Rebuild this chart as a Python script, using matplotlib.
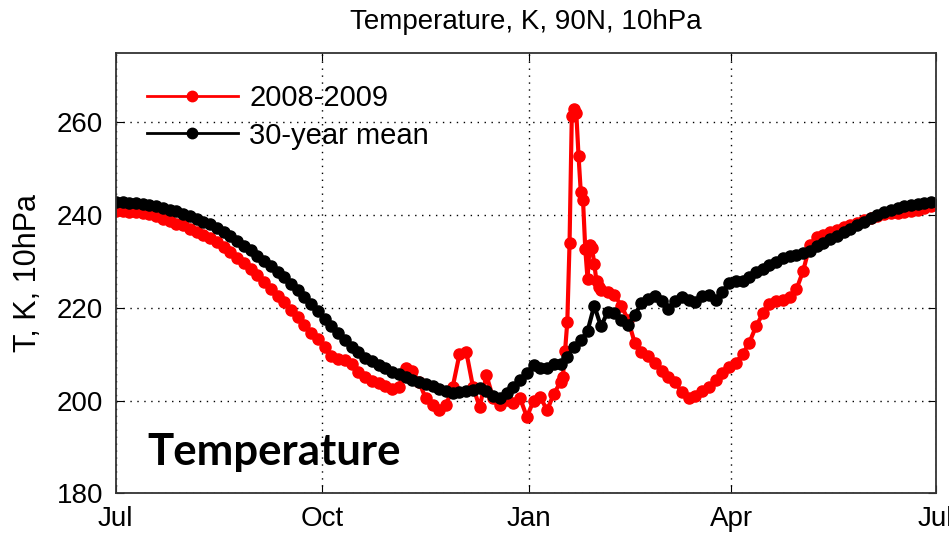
import numpy as np
import matplotlib
matplotlib.use('Agg')
from matplotlib import pyplot as plt

# days since 1 July
days = np.arange(0, 366, 3)

# 30-year mean, every 3 days
mean_30 = [242.8, 242.8, 242.7, 242.6, 242.5, 242.3, 242.0, 241.6, 241.2, 240.8,
           240.3, 239.8, 239.2, 238.6, 238.0, 237.3, 236.4, 235.5, 234.5, 233.4,
           232.4, 231.3, 230.2, 229.0, 227.8, 226.6, 225.2, 223.8, 222.3, 220.8,
           219.4, 217.7, 216.0, 214.5, 213.0, 211.6, 210.4, 209.3, 208.5, 207.6,
           207.0, 206.2, 205.8, 205.1, 204.5, 204.0, 203.6, 203.2, 202.6, 202.0,
           201.6, 201.8, 202.0, 202.4, 202.8, 202.0, 201.0, 200.6, 201.6, 203.0,
           204.5, 206.0, 207.6, 207.0, 207.0, 207.8, 207.8, 209.5, 211.6, 213.0,
           215.0, 220.5, 216.0, 219.2, 219.0, 217.5, 216.3, 218.5, 221.0, 222.0,
           222.6, 221.5, 219.8, 221.5, 222.4, 221.8, 221.2, 222.5, 222.8, 221.8,
           223.5, 225.3, 225.7, 225.8, 226.6, 227.8, 228.5, 229.3, 230.0, 230.7,
           231.2, 231.5, 231.8, 232.3, 233.3, 234.1, 234.8, 235.5, 236.3, 237.0,
           237.8, 238.6, 239.3, 240.0, 240.6, 241.1, 241.5, 241.9, 242.2, 242.5,
           242.7, 242.8]

# 2008-2009 season (daily around the warming in late January)
red_days = [0, 3, 6, 9, 12, 15, 18, 21, 24, 27, 30, 33, 36, 39, 42, 45, 48, 51, 54, 57,
            60, 63, 66, 69, 72, 75, 78, 81, 84, 87, 90, 93, 96, 99, 102, 105, 108, 111,
            114, 117, 120, 123, 126, 129, 132, 135, 138, 141, 144, 147, 150, 153, 156,
            159, 162, 165, 168, 171, 174, 177, 180, 183, 186, 189, 192, 195,
            198, 199, 200, 201, 202, 203, 204, 205, 206, 207, 208, 209, 210, 211, 212,
            213, 214, 215, 216, 219, 222, 225, 228, 231, 234, 237, 240, 243, 246, 249,
            252, 255, 258, 261, 264, 267, 270, 273, 276, 279, 282, 285, 288, 291, 294,
            297, 300, 303, 306, 309, 312, 315, 318, 321, 324, 327, 330, 333, 336, 339,
            342, 345, 348, 351, 354, 357, 360, 363]
t_0809 = [241.0, 240.8, 240.6, 240.6, 240.4, 240.2, 239.8, 239.2, 238.8, 238.2,
          237.8, 237.0, 236.4, 235.8, 235.0, 234.2, 233.2, 232.0, 230.8, 229.6,
          228.4, 227.0, 225.6, 224.0, 222.6, 221.2, 219.6, 218.0, 216.4, 214.6,
          213.2, 211.5, 209.6, 209.0, 208.8, 207.8, 206.2, 205.0, 204.2, 203.8,
          203.2, 202.6, 203.0, 207.0, 206.4, 204.0, 200.5, 199.0, 198.0, 199.0,
          203.0, 210.0, 210.6, 203.0, 198.6, 205.5, 200.5, 199.0, 200.2, 199.5,
          200.5, 196.5, 200.0, 200.8, 197.9, 201.5,
          204.0, 205.0, 210.7, 217.0, 234.0, 261.4, 263.0, 262.0, 252.8, 245.0,
          243.2, 232.7, 226.3, 233.6, 233.0, 229.5, 225.7, 224.5, 223.8,
          223.5, 222.8, 220.5, 217.5, 212.5, 210.5, 209.6, 208.2, 206.5, 205.0,
          204.0, 201.8, 200.5, 201.0, 202.0, 203.0, 204.5, 206.0, 207.2, 208.2,
          210.0, 212.5, 216.0, 218.8, 220.8, 221.4, 221.8, 222.3, 224.0, 228.0,
          233.6, 235.4, 235.8, 236.3, 236.8, 237.4, 237.8, 238.4, 239.0, 239.4,
          239.8, 240.2, 240.4, 240.4, 240.6, 241.0, 241.2, 241.6, 242.0]

tick_days = [0, 92, 184, 274, 365]
tick_labels = ['Jul', 'Oct', 'Jan', 'Apr', 'Jul']

plt.rcParams['font.family'] = ['Liberation Sans', 'DejaVu Sans']

fig = plt.figure(figsize=(9.49, 5.34), dpi=100)
ax = fig.add_axes([0.122, 0.076, 0.864, 0.825])

ax.plot(red_days, t_0809, color='red', marker='o', markersize=8, linewidth=3,
        label='2008-2009')
ax.plot(days, mean_30, color='black', marker='o', markersize=8, linewidth=3,
        label='30-year mean')

ax.set_xlim(0, 365)
ax.set_ylim(180, 275)
ax.set_xticks(tick_days)
ax.set_xticklabels(tick_labels)
ax.set_yticks([180, 200, 220, 240, 260])
ax.grid(True, color='black', linestyle=(0, (1, 4)), linewidth=1)
ax.tick_params(direction='in', length=6, labelsize=20, top=True, right=True, pad=9)
for s in ax.spines.values():
    s.set_linewidth(1.3)
    s.set_color('#333333')

ax.set_ylabel('T, K, 10hPa', fontsize=22, labelpad=10)
ax.set_title('Temperature, K, 90N, 10hPa', fontsize=20, pad=17)

leg = ax.legend(loc='upper left', frameon=False, fontsize=21, handlelength=3.1,
                borderaxespad=0.45, labelspacing=0.32, handletextpad=0.4,
                bbox_to_anchor=(0.008, 0.985))
for h in leg.legend_handles:
    h.set_linewidth(2)
    h.set_markersize(7.5)

ax.text(0.038, 0.065, 'Temperature', transform=ax.transAxes, fontsize=31.5,
        fontweight='bold', family='Lato', ha='left', va='baseline')

fig.savefig('out.png', dpi=100)
